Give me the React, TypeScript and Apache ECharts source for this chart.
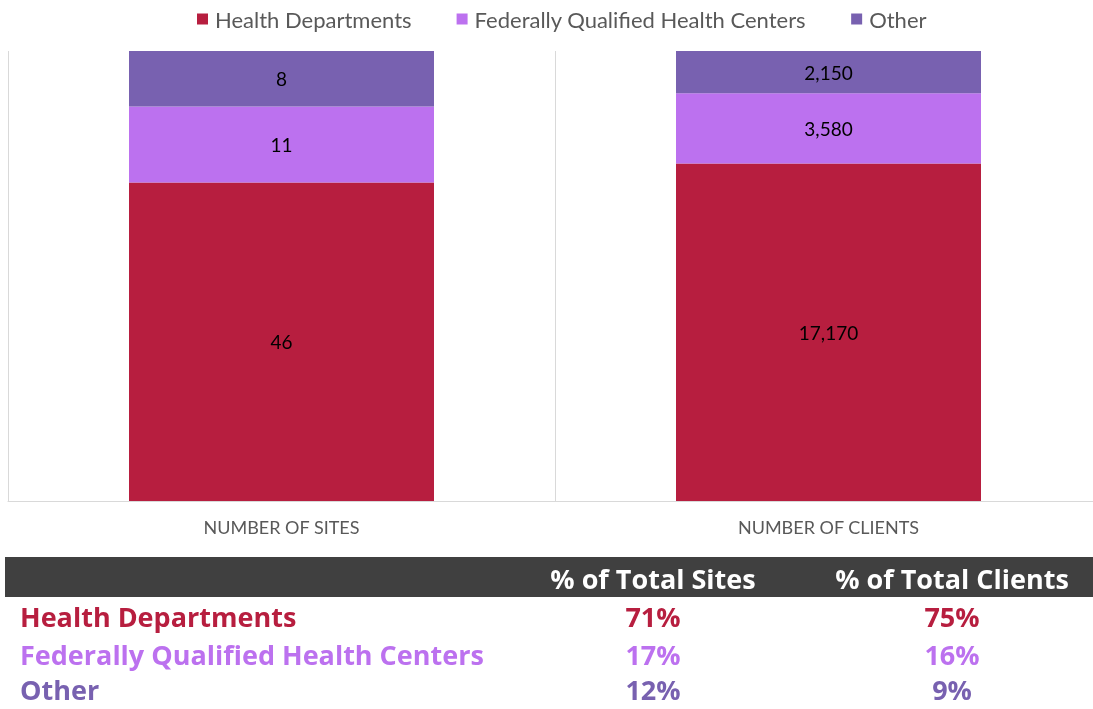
import React, { useEffect, useRef } from "react";
import * as echarts from "echarts";

const categories = ["NUMBER OF SITES", "NUMBER OF CLIENTS"];
const seriesNames = ["Health Departments", "Federally Qualified Health Centers", "Other"];
const healthDepartments = [46, 17170];
const fqhc = [11, 3580];
const other = [8, 2150];
const tableHeaders = ["% of Total Sites", "% of Total Clients"];
const colors = ["#B71E3F", "#BC71EF", "#7861B0"];

const raw = [healthDepartments, fqhc, other];
const totals = categories.map((_, i) => raw.reduce((s, arr) => s + arr[i], 0));
const fmt = (v: number) => v.toLocaleString("en-US");

export default function App() {
  const ref = useRef<HTMLDivElement>(null);
  useEffect(() => {
    if (!ref.current) return;
    const chart = echarts.init(ref.current, undefined, { renderer: "svg" });
    const series = raw.map((arr, si) => ({
      name: seriesNames[si],
      type: "bar",
      stack: "total",
      barWidth: 305,
      itemStyle: { color: colors[si] },
      label: {
        show: true,
        position: "inside",
        color: "#000",
        fontSize: 19,
        fontFamily: "Lato",
        formatter: (p: any) => fmt(arr[p.dataIndex]),
      },
      data: arr.map((v, i) => (v / totals[i]) * 100),
    }));

    const col1 = 653;
    const col2 = 952;
    const rowY = [616, 654, 689];
    const tFont = "bold 27px 'Open Sans'";
    const base = { font: tFont, textVerticalAlign: "middle", lineHeight: 26 };
    const tableGraphics: any[] = [
      { type: "rect", shape: { x: 5, y: 557, width: 1090, height: 40 }, style: { fill: "#404040" } },
      {
        type: "text", x: col1, y: 578,
        style: { ...base, text: tableHeaders[0], fill: "#fff", textAlign: "center" },
      },
      {
        type: "text", x: col2, y: 578,
        style: { ...base, text: tableHeaders[1], fill: "#fff", textAlign: "center" },
      },
    ];
    seriesNames.forEach((name, si) => {
      tableGraphics.push({
        type: "text", x: 20, y: rowY[si],
        style: { ...base, text: name, fill: colors[si], textAlign: "left" },
      });
      [col1, col2].forEach((cx, ci) => {
        tableGraphics.push({
          type: "text", x: cx, y: rowY[si],
          style: {
            ...base,
            text: Math.round((raw[si][ci] / totals[ci]) * 100) + "%",
            fill: colors[si], textAlign: "center",
          },
        });
      });
    });

    chart.setOption({
      animation: false,
      legend: {
        top: 3,
        left: 192,
        icon: "rect",
        itemWidth: 11,
        itemHeight: 11,
        itemGap: 45,
        textStyle: { color: "#595959", fontSize: 22, fontFamily: "Lato", padding: [0, 0, 0, 2] },
        data: seriesNames,
      },
      grid: { left: 8, width: 1094, top: 51, bottom: 208, containLabel: false, outerBoundsMode: "none" },
      xAxis: {
        type: "category",
        data: categories,
        axisLine: { show: true, lineStyle: { color: "#d9d9d9", width: 1 } },
        axisTick: { show: false },
        splitLine: { show: true, lineStyle: { color: "#d9d9d9", width: 1 } },
        axisLabel: { color: "#595959", fontSize: 18, fontFamily: "Lato", margin: 17 },
      },
      yAxis: { type: "value", min: 0, max: 100, show: false, splitLine: { show: false } },
      series,
      graphic: tableGraphics,
    });
    return () => chart.dispose();
  }, []);
  return <div ref={ref} style={{ position: "fixed", left: 0, top: 0, width: 1093, height: 709 }} />;
}
